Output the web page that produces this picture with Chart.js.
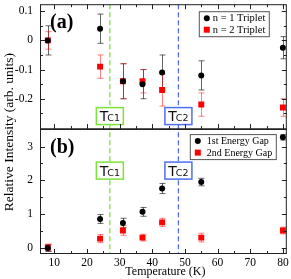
<!DOCTYPE html>
<html>
<head>
<meta charset="utf-8">
<script src="https://cdn.jsdelivr.net/npm/chart.js@4/dist/chart.umd.min.js"></script>
<style>
  html, body { margin: 0; padding: 0; background: #fff; }
  #wrap { width: 291px; height: 279px; }
</style>
</head>
<body>
<div id="wrap"><canvas id="chart" width="291" height="279"></canvas></div>
<script>
// temperatures (K)
const temps = [8, 24, 31, 37, 43, 55, 80];

// panel (a): triplet intensities
const tripletN1 = [0, 0.04, -0.14, -0.15, -0.11, -0.12, -0.025];
const tripletN1Err = [0.05, 0.05, 0.06, 0.05, 0.06, 0.05, 0.038];
const tripletN2 = [0, -0.09, -0.14, -0.14, -0.17, -0.22, -0.23];
const tripletN2Err = [0.03, 0.04, 0.06, 0.04, 0.055, 0.04, 0.03];

// panel (b): energy gaps
const gap1 = [0, 0.86, 0.74, 1.07, 1.76, 1.95, 3.27];
const gap1Err = [0.1, 0.13, 0.14, 0.13, 0.15, 0.11, 0.08];
const gap2 = [0.02, 0.28, 0.52, 0.31, 0.76, 0.31, 0.52];
const gap2Err = [0.1, 0.12, 0.14, 0.1, 0.12, 0.13, 0.1];

// tick labels
const xTicks = [10, 20, 30, 40, 50, 60, 70, 80];
const topTicks = [0.1, 0, -0.1, -0.2];
const botTicks = [0, 1, 2, 3];

// critical temperatures
const tcTemps = [27, 48];
const tcNames = ['C1', 'C2'];
const tcColors = ['#7ee23a', '#4f6ff0'];

const serif = "'Liberation Serif', 'Times New Roman', serif";
const sans = "'DejaVu Sans', sans-serif";

const toPts = (ys, errs) => temps.map((t, i) => ({ x: t, y: ys[i], e: errs[i] }));

const errorBars = {
  id: 'errorBars',
  beforeDatasetsDraw(chart) {
    const { ctx, scales } = chart;
    const area = chart.chartArea;
    // dashed Tc lines
    ctx.save();
    ctx.lineWidth = 1.3;
    ctx.setLineDash([5, 3]);
    tcTemps.forEach((t, i) => {
      const px = scales.x.getPixelForValue(t);
      ctx.strokeStyle = tcColors[i];
      ctx.beginPath();
      ctx.moveTo(px, area.top);
      ctx.lineTo(px, area.bottom);
      ctx.stroke();
    });
    ctx.restore();

    chart.data.datasets.forEach(ds => {
      const ys = scales[ds.yAxisID];
      ctx.save();
      ctx.beginPath();
      ctx.rect(area.left, ys.top, area.right - area.left, ys.bottom - ys.top);
      ctx.clip();
      ctx.strokeStyle = ds.errColor;
      ctx.lineWidth = 1;
      ds.data.forEach(p => {
        const px = Math.round(scales.x.getPixelForValue(p.x)) + 0.5;
        const y1 = ys.getPixelForValue(p.y + p.e);
        const y2 = ys.getPixelForValue(p.y - p.e);
        ctx.beginPath();
        ctx.moveTo(px, y1); ctx.lineTo(px, y2);
        ctx.moveTo(px - 3, y1); ctx.lineTo(px + 3, y1);
        ctx.moveTo(px - 3, y2); ctx.lineTo(px + 3, y2);
        ctx.stroke();
      });
      ctx.restore();
    });
  }
};

function tcBox(ctx, cx, cy, name, color) {
  ctx.save();
  ctx.fillStyle = '#fff';
  ctx.strokeStyle = color;
  ctx.lineWidth = 1.5;
  ctx.fillRect(cx - 13.5, cy - 8.5, 27, 17);
  ctx.strokeRect(cx - 13.5, cy - 8.5, 27, 17);
  ctx.fillStyle = '#111';
  ctx.textBaseline = 'alphabetic';
  ctx.textAlign = 'left';
  ctx.font = '14px ' + sans;
  const tw = ctx.measureText('T').width;
  ctx.font = '9.5px ' + sans;
  const sw = ctx.measureText(name).width;
  const x0 = cx - (tw + sw - 1) / 2;
  ctx.font = '14px ' + sans;
  ctx.fillText('T', x0, cy + 5);
  ctx.font = '9.5px ' + sans;
  ctx.fillText(name, x0 + tw - 1, cy + 5);
  ctx.restore();
}

function legend(ctx, x, y, w, h, rows, fontSize) {
  ctx.save();
  ctx.fillStyle = '#fff';
  ctx.strokeStyle = '#555';
  ctx.lineWidth = 1;
  ctx.fillRect(x + 0.5, y + 0.5, w, h);
  ctx.strokeRect(x + 0.5, y + 0.5, w, h);
  ctx.font = fontSize + 'px ' + serif;
  ctx.textBaseline = 'middle';
  ctx.textAlign = 'left';
  rows.forEach((r, i) => {
    const ry = y + 7 + i * 11.5;
    ctx.fillStyle = r.color;
    if (r.shape === 'circle') {
      ctx.beginPath(); ctx.arc(x + 8, ry, 3, 0, Math.PI * 2); ctx.fill();
    } else {
      ctx.fillRect(x + 5, ry - 3, 6, 6);
    }
    ctx.fillStyle = '#000';
    ctx.fillText(r.text, x + r.tx, ry + 0.5);
  });
  ctx.restore();
}

const decorations = {
  id: 'decorations',
  afterDraw(chart) {
    const { ctx, scales } = chart;
    const area = chart.chartArea;
    const ya = scales.ya, yb = scales.yb, x = scales.x;

    // Tc boxes
    tcTemps.forEach((t, i) => {
      const px = x.getPixelForValue(t);
      tcBox(ctx, px, ya.bottom - 13, tcNames[i], tcColors[i]);
      tcBox(ctx, px, yb.top + 41.5, tcNames[i], tcColors[i]);
    });

    // frame
    ctx.save();
    ctx.strokeStyle = '#222';
    ctx.lineWidth = 1;
    ctx.strokeRect(area.left + 0.5, area.top + 0.5, area.right - area.left - 1, area.bottom - area.top - 1);
    ctx.lineWidth = 1.6;
    ctx.beginPath();
    ctx.moveTo(area.left, ya.bottom); ctx.lineTo(area.right, ya.bottom);
    ctx.stroke();

    // inner ticks
    ctx.lineWidth = 1;
    ctx.beginPath();
    for (let t = 10; t <= 80; t += 5) {
      const px = Math.round(x.getPixelForValue(t)) + 0.5;
      const len = t % 10 === 0 ? 5 : 3;
      ctx.moveTo(px, area.top); ctx.lineTo(px, area.top + len);
      ctx.moveTo(px, ya.bottom); ctx.lineTo(px, ya.bottom - len);
      ctx.moveTo(px, area.bottom); ctx.lineTo(px, area.bottom - len);
    }
    const yTicks = (scale, step, minor) => {
      for (let v = Math.ceil(scale.min / minor) * minor; v <= scale.max + 1e-9; v += minor) {
        const py = Math.round(scale.getPixelForValue(v)) + 0.5;
        if (py < scale.top + 2 || py > scale.bottom - 2) continue;
        const major = Math.abs(v / step - Math.round(v / step)) < 1e-6;
        const len = major ? 5 : 3;
        ctx.moveTo(area.left, py); ctx.lineTo(area.left + len, py);
        ctx.moveTo(area.right, py); ctx.lineTo(area.right - len, py);
      }
    };
    yTicks(ya, 0.1, 0.05);
    yTicks(yb, 1, 0.5);
    ctx.stroke();
    ctx.restore();

    // panel labels
    ctx.save();
    ctx.fillStyle = '#000';
    ctx.font = 'bold 20px ' + serif;
    ctx.textBaseline = 'middle';
    ctx.fillText('(a)', area.left + 10, ya.top + 19);
    ctx.fillText('(b)', area.left + 10, yb.top + 19);

    // x axis title
    ctx.font = '12px ' + serif;
    ctx.textAlign = 'center';
    ctx.fillText('Temperature (K)', (area.left + area.right) / 2 + 2, area.bottom + 18);

    // y axis title
    ctx.font = '13.5px ' + serif;
    ctx.translate(9, (area.top + area.bottom) / 2 + 3);
    ctx.rotate(-Math.PI / 2);
    ctx.fillText('Relative Intensity (arb. units)', 0, 0);
    ctx.restore();

    // legends
    legend(ctx, area.right - 88, ya.top + 7, 70, 25, [
      { shape: 'circle', color: '#000', text: 'n = 1 Triplet', tx: 14 },
      { shape: 'rect', color: '#f00', text: 'n = 2 Triplet', tx: 14 }
    ], 10.5);
    legend(ctx, area.right - 97, yb.top + 5, 86, 25, [
      { shape: 'circle', color: '#000', text: '1st Energy Gap', tx: 17 },
      { shape: 'rect', color: '#f00', text: '2nd Energy Gap', tx: 17 }
    ], 10);
  }
};

const yAxis = (min, max, ticks) => ({
  type: 'linear',
  position: 'left',
  stack: 'panels',
  stackWeight: 1,
  min, max,
  grid: { display: false, drawTicks: false },
  border: { display: false },
  afterFit: s => { s.width = 40; s.paddingTop = 0; s.paddingBottom = 0; },
  afterBuildTicks: s => { s.ticks = ticks.map(v => ({ value: v })); },
  ticks: {
    padding: 7,
    color: '#000',
    font: { family: serif, size: 11.5 },
    callback: v => String(v)
  }
});

new Chart(document.getElementById('chart'), {
  type: 'scatter',
  data: {
    datasets: [
      { label: 'n = 1 Triplet', data: toPts(tripletN1, tripletN1Err), yAxisID: 'ya',
        pointStyle: 'circle', pointRadius: 3, backgroundColor: '#000', borderWidth: 0, errColor: 'rgba(0,0,0,0.6)' },
      { label: 'n = 2 Triplet', data: toPts(tripletN2, tripletN2Err), yAxisID: 'ya',
        pointStyle: 'rect', pointRadius: 4.2, backgroundColor: '#f00', borderWidth: 0, errColor: 'rgba(255,0,0,0.5)' },
      { label: '1st Energy Gap', data: toPts(gap1, gap1Err), yAxisID: 'yb',
        pointStyle: 'circle', pointRadius: 3, backgroundColor: '#000', borderWidth: 0, errColor: 'rgba(0,0,0,0.6)' },
      { label: '2nd Energy Gap', data: toPts(gap2, gap2Err), yAxisID: 'yb',
        pointStyle: 'rect', pointRadius: 4.2, backgroundColor: '#f00', borderWidth: 0, errColor: 'rgba(255,0,0,0.5)' }
    ]
  },
  options: {
    responsive: false,
    animation: false,
    layout: { padding: { top: -1, right: 4, left: 0, bottom: 0 } },
    plugins: { legend: { display: false }, tooltip: { enabled: false } },
    scales: {
      x: {
        type: 'linear',
        min: 5.6,
        max: 81.2,
        grid: { display: false, drawTicks: false },
        border: { display: false },
        afterFit: s => { s.height = 25; s.paddingLeft = 0; s.paddingRight = 0; },
        afterBuildTicks: s => { s.ticks = xTicks.map(v => ({ value: v })); },
        ticks: { padding: 2, color: '#000', font: { family: serif, size: 11.5 }, maxRotation: 0 }
      },
      // stacked axes are laid out bottom-up: first defined ends up lowest
      yb: yAxis(-0.174, 3.514, botTicks),
      ya: yAxis(-0.304, 0.124, topTicks)
    }
  },
  plugins: [errorBars, decorations]
});
</script>
</body>
</html>
